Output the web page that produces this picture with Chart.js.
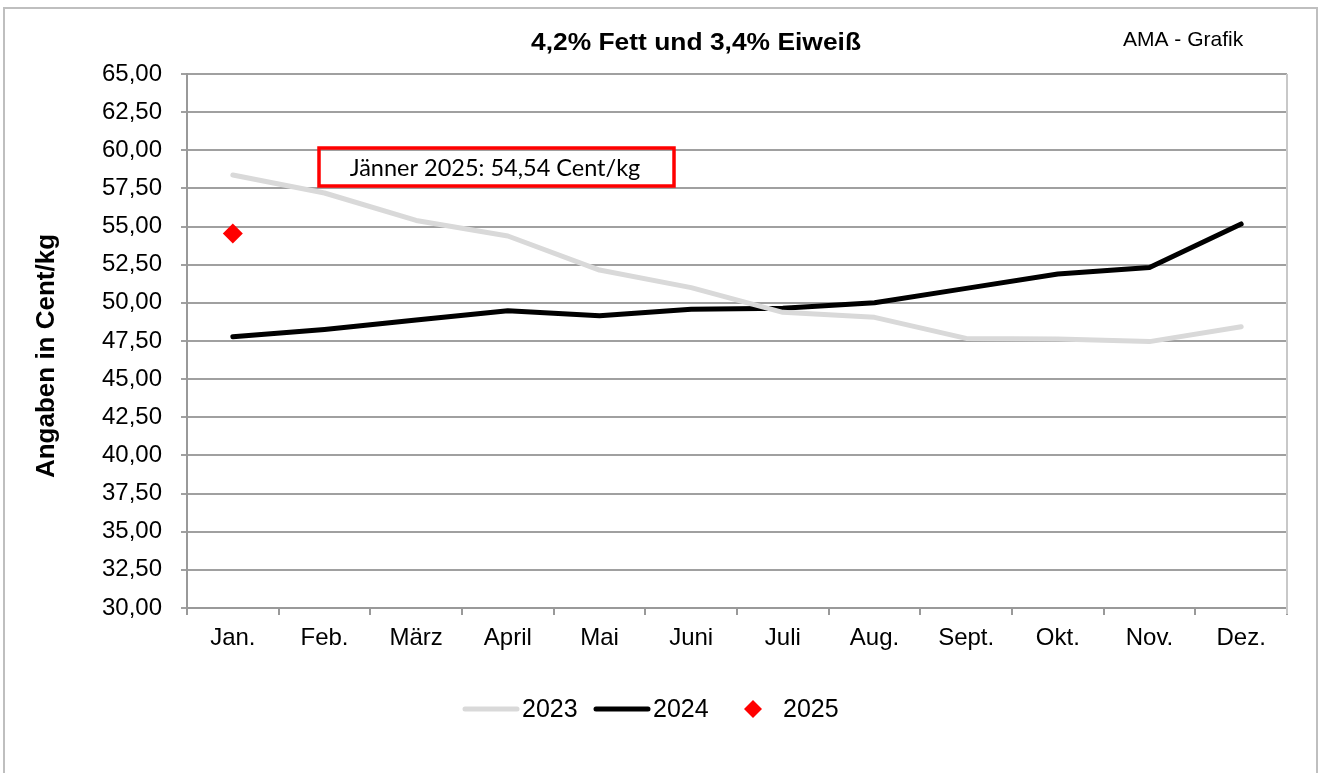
<!DOCTYPE html>
<html>
<head>
<meta charset="utf-8">
<script src="https://cdn.jsdelivr.net/npm/chart.js@4/dist/chart.umd.min.js"></script>
<style>
  html, body { margin: 0; padding: 0; background: #fff; }
  #wrap { position: relative; width: 1322px; height: 773px; }
</style>
</head>
<body>
<div id="wrap"><canvas id="milk" width="1322" height="773"></canvas></div>
<script>
// Monthly values, cents per kg
const months = ['Jan.', 'Feb.', 'März', 'April', 'Mai', 'Juni', 'Juli', 'Aug.', 'Sept.', 'Okt.', 'Nov.', 'Dez.'];
const prices2023 = [58.38, 57.2, 55.4, 54.38, 52.15, 51.0, 49.38, 49.05, 47.67, 47.63, 47.46, 48.44];
const prices2024 = [47.78, 48.26, 48.87, 49.49, 49.16, 49.58, 49.64, 50.01, 50.95, 51.89, 52.31, 55.17];
const prices2025 = [54.54, null, null, null, null, null, null, null, null, null, null, null];
const yMin = 30, yMax = 65, yStep = 2.5;

const chartTitle = '4,2% Fett und 3,4% Eiweiß';
const sourceNote = 'AMA - Grafik';
const yTitle = 'Angaben in Cent/kg';
const calloutText = 'Jänner 2025: 54,54 Cent/kg';

const FONT = '"Liberation Sans", Arial, sans-serif';
const fmt = v => v.toFixed(2).replace('.', ',');

// texts, frame, callout box and the legend are drawn here
const decor = {
    id: 'decor',
    beforeDraw(chart) {
        const ctx = chart.ctx;
        ctx.save();
        ctx.fillStyle = '#fff';
        ctx.fillRect(0, 0, chart.width, chart.height);
        ctx.strokeStyle = '#bfbfbf';
        ctx.lineWidth = 2;
        ctx.strokeRect(4, 8, 1313, 800);
        ctx.restore();
    },
    afterDraw(chart) {
        const ctx = chart.ctx;
        const area = chart.chartArea;
        ctx.save();

        // right edge of plot
        ctx.strokeStyle = '#c8c8c8';
        ctx.lineWidth = 2;
        ctx.beginPath();
        ctx.moveTo(area.right, area.top);
        ctx.lineTo(area.right, area.bottom + 6);
        ctx.stroke();

        ctx.fillStyle = '#000';
        ctx.textBaseline = 'middle';
        ctx.textAlign = 'center';

        // title is a bit wider than the font, stretch it slightly
        ctx.save();
        ctx.translate(696, 43);
        ctx.scale(1.1, 1);
        ctx.font = 'bold 24px ' + FONT;
        ctx.fillText(chartTitle, 0, 0);
        ctx.restore();

        ctx.font = '21px ' + FONT;
        ctx.textAlign = 'left';
        ctx.fillText(sourceNote, 1123, 40);

        // y axis title
        ctx.save();
        ctx.translate(47, 356);
        ctx.rotate(-Math.PI / 2);
        ctx.textAlign = 'center';
        ctx.font = 'bold 26px ' + FONT;
        ctx.fillText(yTitle, 0, 0);
        ctx.restore();

        // callout
        ctx.strokeStyle = '#ff0000';
        ctx.lineWidth = 3.5;
        ctx.strokeRect(319, 148, 355, 38);
        ctx.font = '23.5px Lato, "Open Sans", sans-serif';
        ctx.textAlign = 'center';
        ctx.fillText(calloutText, 495, 168);

        // legend
        const ly = 709;
        const sets = chart.data.datasets;
        ctx.font = '25px ' + FONT;
        ctx.textAlign = 'left';
        ctx.lineCap = 'round';
        const lineItems = [[sets[0], 465], [sets[1], 596]];
        lineItems.forEach(([ds, x]) => {
            ctx.strokeStyle = ds.borderColor;
            ctx.lineWidth = 5;
            ctx.beginPath();
            ctx.moveTo(x, ly);
            ctx.lineTo(x + 52, ly);
            ctx.stroke();
            ctx.fillStyle = '#000';
            ctx.fillText(ds.label, x + 57, ly + 1);
        });
        const d = sets[2];
        ctx.fillStyle = d.pointBackgroundColor;
        ctx.beginPath();
        ctx.moveTo(753, ly - 9);
        ctx.lineTo(762, ly);
        ctx.lineTo(753, ly + 9);
        ctx.lineTo(744, ly);
        ctx.closePath();
        ctx.fill();
        ctx.fillStyle = '#000';
        ctx.fillText(d.label, 783, ly + 1);

        ctx.restore();
    }
};

new Chart(document.getElementById('milk'), {
    type: 'line',
    data: {
        labels: months,
        datasets: [
            {
                label: '2023',
                data: prices2023,
                borderColor: '#d9d9d9',
                borderWidth: 5,
                borderCapStyle: 'round',
                borderJoinStyle: 'round',
                pointRadius: 0,
                tension: 0
            },
            {
                label: '2024',
                data: prices2024,
                borderColor: '#000000',
                borderWidth: 5,
                borderCapStyle: 'round',
                borderJoinStyle: 'round',
                pointRadius: 0,
                tension: 0
            },
            {
                label: '2025',
                data: prices2025,
                showLine: false,
                pointStyle: 'rectRot',
                pointRadius: 10,
                pointBackgroundColor: '#ff0000',
                pointBorderColor: '#ff0000',
                pointBorderWidth: 0
            }
        ]
    },
    options: {
        responsive: false,
        animation: false,
        layout: { padding: { top: 74, right: 35, left: 0, bottom: 0 } },
        plugins: {
            legend: { display: false },
            tooltip: { enabled: false }
        },
        scales: {
            x: {
                offset: true,
                afterFit: s => { s.height = 165; },
                grid: { offset: true, drawOnChartArea: false, color: '#999', lineWidth: 2, tickLength: 7 },
                border: { color: '#999', width: 2 },
                ticks: { color: '#000', padding: 9, maxRotation: 0, font: { family: FONT, size: 24 } }
            },
            y: {
                min: yMin,
                max: yMax,
                afterFit: s => { s.width = 187; },
                grid: { color: '#a0a0a0', lineWidth: 2, tickLength: 6 },
                border: { color: '#999', width: 2 },
                ticks: {
                    stepSize: yStep,
                    color: '#000',
                    padding: 19,
                    font: { family: FONT, size: 24 },
                    callback: v => fmt(v)
                }
            }
        }
    },
    plugins: [decor]
});
</script>
</body>
</html>
